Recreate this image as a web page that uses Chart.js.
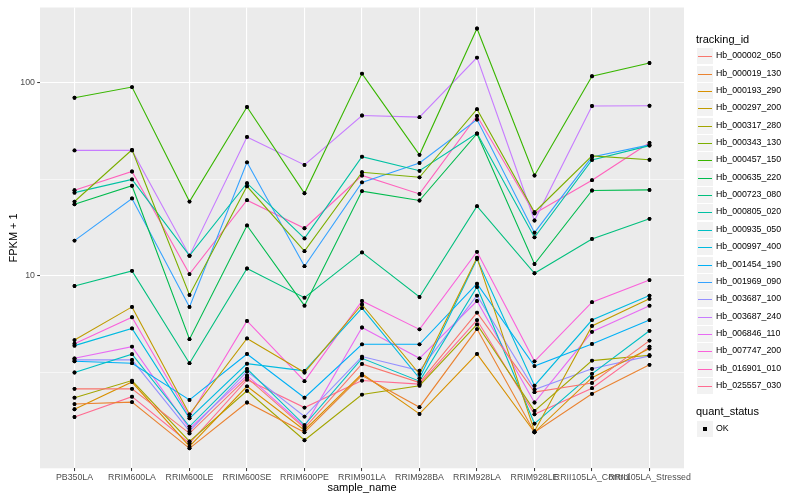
<!DOCTYPE html>
<html>
<head>
<meta charset="utf-8">
<script src="https://cdn.jsdelivr.net/npm/chart.js@4/dist/chart.umd.min.js"></script>
<style>
  body { margin: 0; background: #fff; }
  #wrap { position: relative; width: 800px; height: 500px; background: #fff; font-family: "Liberation Sans", Arial, sans-serif; }
  #legend div { position: absolute; white-space: nowrap; }
  .ltitle { font-size: 11px; color: #000; }
  .key { width: 16px; height: 16px; background: #f2f2f2; }
  .keyline { position: absolute; left: 1px; width: 14px; top: 8px; height: 1px; }
  .ltext { font-size: 8.8px; color: #000; }
</style>
</head>
<body>
<div id="wrap">
  <canvas id="chart" width="800" height="500"></canvas>
  <div id="legend"></div>
</div>
<script>
// x categories and series (values are FPKM + 1)
const categories = ['PB350LA', 'RRIM600LA', 'RRIM600LE', 'RRIM600SE', 'RRIM600PE', 'RRIM901LA',
                    'RRIM928BA', 'RRIM928LA', 'RRIM928LE', 'RRII105LA_Control', 'RRII105LA_Stressed'];

const hb_000002_050 = [2.6, 2.6, 1.53, 2.97, 1.63, 3.5, 2.8, 6.45, 2.5, 2.79, 4.62];
const hb_000019_130 = [2.17, 2.22, 1.28, 2.21, 1.55, 3.05, 2.09, 5.3, 1.55, 2.45, 3.46];
const hb_000193_290 = [2.04, 2.82, 1.31, 2.68, 1.59, 3.11, 1.93, 3.94, 1.55, 2.97, 4.2];
const hb_000297_200 = [4.65, 6.9, 1.92, 4.74, 3.16, 7.1, 3.1, 12.4, 1.57, 5.5, 7.6];
const hb_000317_280 = [2.34, 2.87, 1.39, 2.54, 1.41, 2.43, 2.7, 5.6, 2.0, 3.64, 3.88];
const hb_000343_130 = [24.2, 44.8, 7.96, 29.0, 13.4, 34.3, 32.3, 72.7, 21.3, 41.7, 39.8];
const hb_000457_150 = [83.3, 94.6, 24.2, 74.6, 26.7, 111, 42.2, 190, 33.0, 107.6, 126];
const hb_000635_220 = [23.4, 29.2, 4.7, 18.2, 7.0, 27.4, 24.5, 54.3, 11.5, 27.6, 27.8];
const hb_000723_080 = [8.85, 10.6, 3.53, 10.9, 7.7, 13.2, 7.77, 22.9, 10.3, 15.5, 19.7];
const hb_000805_020 = [26.9, 31.5, 12.7, 30.1, 15.6, 41.3, 34.9, 54.5, 15.8, 39.7, 47.1];
const hb_000935_050 = [3.16, 3.93, 1.66, 3.3, 1.69, 3.74, 2.85, 8.75, 1.72, 3.11, 5.19];
const hb_000997_400 = [4.35, 5.34, 1.83, 3.51, 3.22, 6.8, 2.95, 12.2, 2.7, 5.9, 7.9];
const hb_001454_190 = [3.61, 3.53, 2.28, 3.94, 2.34, 4.42, 4.42, 9.1, 3.41, 4.44, 5.9];
const hb_001969_090 = [15.2, 25.1, 6.9, 38.6, 11.2, 30.4, 38.3, 64.2, 16.7, 41.1, 47.5];
const hb_003687_100 = [3.67, 3.67, 1.57, 3.2, 1.87, 3.82, 3.23, 7.9, 2.58, 3.3, 3.85];
const hb_003687_240 = [44.5, 44.5, 12.7, 52.2, 37.4, 67.4, 66.1, 134.4, 19.3, 75.5, 75.7];
const hb_006846_110 = [3.74, 4.3, 1.62, 3.05, 1.66, 5.4, 3.74, 7.4, 2.21, 5.13, 7.0];
const hb_007747_200 = [4.45, 6.1, 1.87, 5.84, 2.85, 7.4, 5.28, 13.3, 3.61, 7.3, 9.5];
const hb_016901_010 = [27.7, 34.6, 10.2, 24.6, 17.6, 33.0, 26.5, 67, 21.0, 31.2, 48.7];
const hb_025557_030 = [1.86, 2.37, 1.36, 2.9, 2.08, 2.87, 2.75, 5.9, 1.92, 2.62, 4.3];

const seriesNames = ['Hb_000002_050', 'Hb_000019_130', 'Hb_000193_290', 'Hb_000297_200', 'Hb_000317_280',
  'Hb_000343_130', 'Hb_000457_150', 'Hb_000635_220', 'Hb_000723_080', 'Hb_000805_020',
  'Hb_000935_050', 'Hb_000997_400', 'Hb_001454_190', 'Hb_001969_090', 'Hb_003687_100',
  'Hb_003687_240', 'Hb_006846_110', 'Hb_007747_200', 'Hb_016901_010', 'Hb_025557_030'];
const seriesValues = [hb_000002_050, hb_000019_130, hb_000193_290, hb_000297_200, hb_000317_280,
  hb_000343_130, hb_000457_150, hb_000635_220, hb_000723_080, hb_000805_020,
  hb_000935_050, hb_000997_400, hb_001454_190, hb_001969_090, hb_003687_100,
  hb_003687_240, hb_006846_110, hb_007747_200, hb_016901_010, hb_025557_030];

const yTicks = [3.1623, 10, 31.623, 100];   // minor, major, minor, major
const yMajor = [10, 100];

// ggplot default hue palette for 20 groups
const colors = ['#F8766D', '#EA8331', '#D89000', '#C09B00', '#A3A500', '#7CAE00', '#39B600', '#00BB4E',
  '#00BF7D', '#00C1A3', '#00BFC4', '#00BAE0', '#00B0F6', '#35A2FF', '#9590FF', '#C77CFF',
  '#E76BF3', '#FA62DB', '#FF62BC', '#FF6C91'];

// grey panel behind the plot, points drawn on top of all lines
const panelPlugin = {
  id: 'panel',
  beforeDraw(chart) {
    const {ctx, chartArea: a} = chart;
    ctx.save();
    ctx.fillStyle = '#EBEBEB';
    ctx.fillRect(a.left, a.top, a.right - a.left, a.bottom - a.top);
    ctx.restore();
  },
  afterDatasetsDraw(chart) {
    chart.data.datasets.forEach((d, i) => {
      chart.getDatasetMeta(i).data.forEach(p => p.draw(chart.ctx, chart.chartArea));
    });
  }
};

const datasets = seriesValues.map((vals, i) => ({
  label: seriesNames[i],
  data: vals.map((v, j) => ({x: j, y: v})),
  borderColor: colors[i],
  borderWidth: 1.1,
  pointRadius: 1.9,
  pointBackgroundColor: '#000',
  pointBorderWidth: 0,
  fill: false,
  tension: 0
}));

const tickFont = {family: '"Liberation Sans", Arial, sans-serif', size: 8.8};
const titleFont = {family: '"Liberation Sans", Arial, sans-serif', size: 11};

new Chart(document.getElementById('chart').getContext('2d'), {
  type: 'line',
  data: {datasets},
  plugins: [panelPlugin],
  options: {
    responsive: false,
    animation: false,
    devicePixelRatio: 1,
    layout: {padding: {left: 0, right: 116, top: 5, bottom: 0}},
    plugins: {legend: {display: false}, tooltip: {enabled: false}},
    scales: {
      x: {
        type: 'linear',
        min: -0.6,
        max: 10.6,
        afterBuildTicks: s => { s.ticks = categories.map((c, i) => ({value: i})); },
        afterFit: s => { s.height = 31.7; },
        border: {display: false},
        grid: {color: '#FFFFFF', lineWidth: 1.1, tickColor: '#333333', tickLength: 2.8, tickWidth: 1},
        ticks: {autoSkip: false, maxRotation: 0, minRotation: 0, padding: 1.5, color: '#4D4D4D', font: tickFont,
                callback: v => categories[v]},
        title: {display: true, text: 'sample_name', color: '#000', font: titleFont, padding: {top: 0, bottom: 5}}
      },
      y: {
        type: 'logarithmic',
        min: 1.0095,
        max: 244,
        afterBuildTicks: s => { s.ticks = yTicks.map(v => ({value: v})); },
        afterFit: s => { s.width = 40; },
        border: {display: false},
        grid: {
          color: '#FFFFFF',
          lineWidth: c => yMajor.includes(c.tick.value) ? 1.1 : 0.55,
          tickColor: c => yMajor.includes(c.tick.value) ? '#333333' : 'rgba(0,0,0,0)',
          tickLength: 2.8,
          tickWidth: 1
        },
        ticks: {padding: 2.2, color: '#4D4D4D', font: tickFont,
                callback: v => yMajor.includes(v) ? String(v) : ''},
        title: {display: true, text: 'FPKM + 1', color: '#000', font: titleFont, padding: {top: 7, bottom: 0}}
      }
    }
  }
});

// legend on the right, ggplot style
const legend = document.getElementById('legend');
function addDiv(cls, left, top, text) {
  const d = document.createElement('div');
  d.className = cls;
  d.style.left = left + 'px';
  d.style.top = top + 'px';
  if (text) d.textContent = text;
  legend.appendChild(d);
  return d;
}
addDiv('ltitle', 696, 33, 'tracking_id');
seriesNames.forEach((name, i) => {
  const cy = Math.round(56.3 + i * 17.35);
  const key = addDiv('key', 697, cy - 8);
  const line = document.createElement('div');
  line.className = 'keyline';
  line.style.background = colors[i];
  key.appendChild(line);
  addDiv('ltext', 716, cy - 6, name);
});
addDiv('ltitle', 696, 405, 'quant_status');
const okKey = addDiv('key', 697, 421);
const dot = document.createElement('div');
dot.style.cssText = 'position:absolute;left:6px;top:6px;width:4px;height:4px;background:#000;';
okKey.appendChild(dot);
addDiv('ltext', 716, 423, 'OK');
</script>
</body>
</html>
